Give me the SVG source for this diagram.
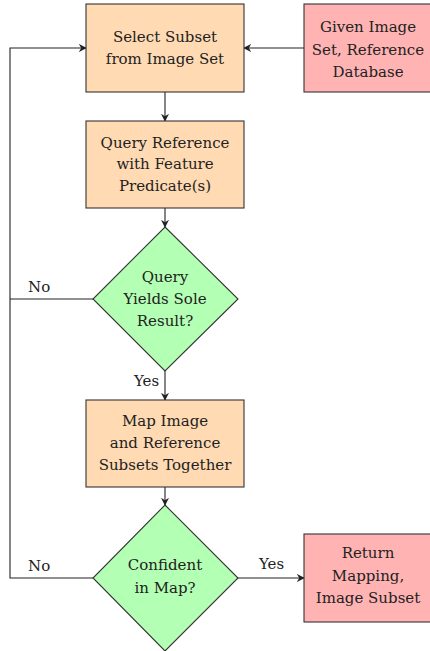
<svg xmlns="http://www.w3.org/2000/svg" width="430" height="651" viewBox="0 0 430 651">
<style>
.proc{fill:#ffdab3;stroke:#333;stroke-width:1.1}
.io{fill:#ffb3b3;stroke:#333;stroke-width:1.1}
.dec{fill:#b3ffb3;stroke:#333;stroke-width:1.1}
text{font-family:"DejaVu Serif",serif;font-size:15px;fill:#222;text-anchor:middle}
.lbl{text-anchor:start}
.edge{fill:none;stroke:#222;stroke-width:1.1}
</style>
<defs>
<marker id="arr" viewBox="0 0 10 10" refX="9" refY="5" markerWidth="8" markerHeight="8" markerUnits="userSpaceOnUse" orient="auto">
<path d="M0,0 L10,5 L0,10 L3,5 Z" fill="#222"/>
</marker>
</defs>
<g id="connectors">
<path class="edge" d="M304,48 H244" marker-end="url(#arr)"/>
<path class="edge" d="M165,92 V121" marker-end="url(#arr)"/>
<path class="edge" d="M165,208 V227" marker-end="url(#arr)"/>
<path class="edge" d="M165,371 V400" marker-end="url(#arr)"/>
<path class="edge" d="M165,487 V505" marker-end="url(#arr)"/>
<path class="edge" d="M93,299 H10"/>
<path class="edge" d="M93,578 H10 V48 H86" marker-end="url(#arr)"/>
<path class="edge" d="M238,578 H304" marker-end="url(#arr)"/>
<text class="lbl" x="28" y="292">No</text>
<text class="lbl" x="134" y="386">Yes</text>
<text class="lbl" x="28" y="571">No</text>
<text class="lbl" x="259" y="569">Yes</text>
</g>
<g id="given">
<rect class="io" x="304" y="4" width="127" height="88"/>
<text x="368" y="32">Given Image</text>
<text x="368" y="55">Set, Reference</text>
<text x="368" y="77">Database</text>
</g>
<g id="select">
<rect class="proc" x="86" y="4" width="158" height="88"/>
<text x="165" y="42">Select Subset</text>
<text x="165" y="64">from Image Set</text>
</g>
<g id="query">
<rect class="proc" x="86" y="121" width="158" height="87"/>
<text x="165" y="148">Query Reference</text>
<text x="165" y="169">with Feature</text>
<text x="165" y="191">Predicate(s)</text>
</g>
<g id="sole">
<polygon class="dec" points="165,227 238,299 165,371 93,299"/>
<text x="165" y="282">Query</text>
<text x="165" y="304">Yields Sole</text>
<text x="165" y="326">Result?</text>
</g>
<g id="map">
<rect class="proc" x="86" y="400" width="158" height="87"/>
<text x="165" y="426">Map Image</text>
<text x="165" y="448">and Reference</text>
<text x="165" y="470">Subsets Together</text>
</g>
<g id="confident">
<polygon class="dec" points="165,505 238,578 165,651 93,578"/>
<text x="165" y="570">Confident</text>
<text x="165" y="593">in Map?</text>
</g>
<g id="return">
<rect class="io" x="304" y="534" width="127" height="88"/>
<text x="368" y="558">Return</text>
<text x="368" y="581">Mapping,</text>
<text x="368" y="603">Image Subset</text>
</g>
</svg>
